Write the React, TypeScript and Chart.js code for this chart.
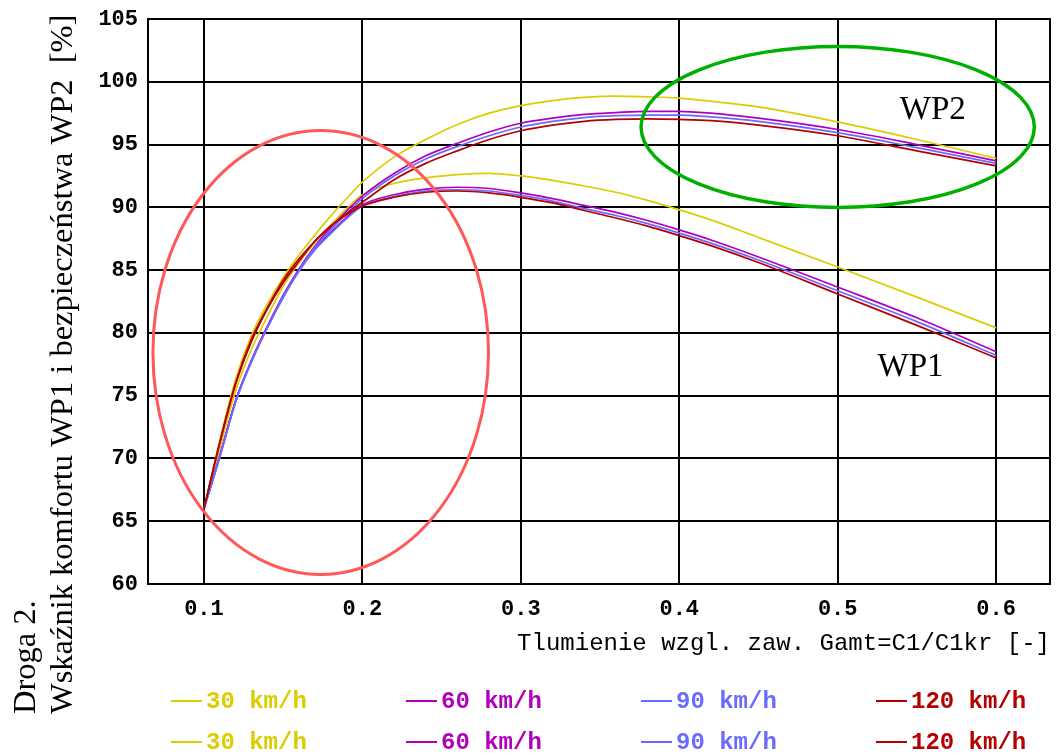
import { useEffect, useRef } from 'react';
import { Chart, registerables } from 'chart.js';

Chart.register(...registerables);

// Relative damping Gamt = C1/C1kr
const GAMMA = [0.1, 0.11, 0.12, 0.13, 0.14, 0.15, 0.16, 0.17, 0.18, 0.19, 0.2, 0.22, 0.24, 0.26, 0.28, 0.3, 0.32, 0.34, 0.36, 0.38, 0.4, 0.42, 0.45, 0.5, 0.55, 0.6];

const SPEEDS = ['30 km/h', '60 km/h', '90 km/h', '120 km/h'];
const COLORS = ['#dccc00', '#b000bc', '#6a6aff', '#b40000'];

// Comfort index WP1 [%]
const WP1_30 = [66.0, 70.8, 75.4, 78.7, 81.3, 83.7, 85.6, 87.2, 88.6, 89.9, 91.0, 91.9, 92.35, 92.6, 92.7, 92.5, 92.15, 91.7, 91.2, 90.55, 89.8, 89.0, 87.6, 85.25, 82.85, 80.4];
const WP1_60 = [66.0, 70.2, 74.6, 77.8, 80.5, 82.9, 85.0, 86.7, 88.0, 89.2, 90.2, 91.0, 91.45, 91.6, 91.5, 91.15, 90.7, 90.15, 89.6, 88.95, 88.2, 87.4, 86.05, 83.65, 81.2, 78.5];
const WP1_90 = [66.0, 70.1, 74.5, 77.7, 80.4, 82.8, 84.9, 86.6, 87.9, 89.1, 90.1, 90.85, 91.3, 91.4, 91.3, 90.95, 90.5, 89.9, 89.35, 88.7, 87.95, 87.15, 85.8, 83.35, 80.9, 78.2];
const WP1_120 = [66.0, 71.3, 76.0, 79.5, 82.0, 84.2, 85.9, 87.3, 88.5, 89.4, 90.1, 90.8, 91.2, 91.3, 91.15, 90.8, 90.35, 89.75, 89.15, 88.5, 87.75, 86.95, 85.6, 83.1, 80.6, 78.0];

// Safety index WP2 [%]
const WP2_30 = [66.0, 71.4, 76.3, 79.8, 82.3, 84.4, 86.2, 87.8, 89.3, 90.7, 92.0, 94.0, 95.4, 96.6, 97.5, 98.1, 98.5, 98.75, 98.85, 98.8, 98.7, 98.45, 98.0, 96.8, 95.4, 93.9];
const WP2_60 = [66.0, 70.2, 74.6, 77.8, 80.5, 83.0, 85.1, 86.9, 88.4, 89.7, 90.9, 92.7, 94.1, 95.1, 96.0, 96.7, 97.1, 97.4, 97.55, 97.65, 97.65, 97.5, 97.1, 96.2, 95.0, 93.7];
const WP2_90 = [66.0, 70.1, 74.5, 77.7, 80.4, 82.9, 85.0, 86.8, 88.2, 89.5, 90.7, 92.5, 93.85, 94.85, 95.7, 96.4, 96.85, 97.15, 97.3, 97.35, 97.35, 97.2, 96.85, 95.95, 94.75, 93.5];
const WP2_120 = [66.0, 71.2, 75.9, 79.3, 81.9, 84.0, 85.7, 87.3, 88.5, 89.5, 90.4, 92.2, 93.5, 94.5, 95.4, 96.1, 96.55, 96.85, 97.0, 97.05, 97.0, 96.9, 96.55, 95.7, 94.5, 93.3];

const X_TICKS = [0.1, 0.2, 0.3, 0.4, 0.5, 0.6];
const Y_TICKS = [60, 65, 70, 75, 80, 85, 90, 95, 100, 105];
const X_MIN = 0.0647;
const X_MAX = 0.634;

const Y_TITLE = ['Droga 2.', 'Wskaźnik komfortu WP1 i bezpieczeństwa WP2  [%]'];
const X_TITLE = 'Tlumienie wzgl. zaw. Gamt=C1/C1kr [-]';

// Highlight ellipses, in data units
const ELLIPSES = [
  { cx: 0.1737, cy: 78.44, rx: 0.1059, ry: 17.68, color: '#ff5858', width: 3 },
  { cx: 0.5, cy: 96.4, rx: 0.1241, ry: 6.41, color: '#00b000', width: 3.5 },
];
const NOTES = [
  { text: 'WP2', x: 0.56, y: 97.0 },
  { text: 'WP1', x: 0.546, y: 76.53 },
];

const WP1 = [WP1_30, WP1_60, WP1_90, WP1_120];
const WP2 = [WP2_30, WP2_60, WP2_90, WP2_120];

const MONO = '"Liberation Mono", "DejaVu Sans Mono", monospace';
const SERIF = '"Liberation Serif", "DejaVu Serif", serif';

const frame = {
  id: 'frame',
  beforeDatasetsDraw(chart: any) {
    const { ctx, chartArea: a } = chart;
    ctx.save();
    ctx.strokeStyle = '#000';
    ctx.lineWidth = 2;
    ctx.strokeRect(a.left, a.top, a.right - a.left, a.bottom - a.top);
    ctx.restore();
  },
  afterDatasetsDraw(chart: any) {
    const { ctx } = chart;
    const xs = chart.scales.x;
    const ys = chart.scales.y;
    ctx.save();
    for (const e of ELLIPSES) {
      const cx = xs.getPixelForValue(e.cx);
      const cy = ys.getPixelForValue(e.cy);
      const rx = Math.abs(xs.getPixelForValue(e.cx + e.rx) - cx);
      const ry = Math.abs(ys.getPixelForValue(e.cy + e.ry) - cy);
      ctx.beginPath();
      ctx.ellipse(cx, cy, rx, ry, 0, 0, Math.PI * 2);
      ctx.strokeStyle = e.color;
      ctx.lineWidth = e.width;
      ctx.stroke();
    }
    ctx.fillStyle = '#000';
    ctx.font = `33px ${SERIF}`;
    ctx.textAlign = 'center';
    ctx.textBaseline = 'alphabetic';
    for (const n of NOTES) {
      ctx.fillText(n.text, xs.getPixelForValue(n.x), ys.getPixelForValue(n.y));
    }
    ctx.restore();
  },
  afterDraw(chart: any) {
    const { ctx } = chart;
    ctx.save();
    // rotated two-line axis title
    ctx.fillStyle = '#000';
    ctx.font = `32.5px ${SERIF}`;
    ctx.textAlign = 'left';
    ctx.textBaseline = 'alphabetic';
    const baseX = [35, 72];
    Y_TITLE.forEach((t, i) => {
      ctx.save();
      ctx.translate(baseX[i], 714);
      ctx.rotate(-Math.PI / 2);
      ctx.fillText(t, 0, 0);
      ctx.restore();
    });
    // legend: WP1 row then WP2 row
    const cols = [171, 406, 641, 876];
    const rows = [701, 742];
    ctx.font = `bold 24px ${MONO}`;
    ctx.textBaseline = 'middle';
    chart.data.datasets.forEach((ds: any, i: number) => {
      const x0 = cols[i % 4];
      const y0 = rows[Math.floor(i / 4)];
      ctx.strokeStyle = ds.borderColor;
      ctx.lineWidth = 2;
      ctx.beginPath();
      ctx.moveTo(x0, y0);
      ctx.lineTo(x0 + 31, y0);
      ctx.stroke();
      ctx.fillStyle = ds.borderColor;
      ctx.fillText(ds.label, x0 + 35, y0 + 1);
    });
    ctx.restore();
  },
};

export default function App() {
  const ref = useRef<HTMLCanvasElement | null>(null);

  useEffect(() => {
    if (!ref.current) return;
    const series = [...WP1, ...WP2];
    const datasets = series.map((vals, i) => ({
      label: SPEEDS[i % 4],
      data: GAMMA.map((g, k) => ({ x: g, y: vals[k] })),
      borderColor: COLORS[i % 4],
      borderWidth: 1.7,
      pointRadius: 0,
      cubicInterpolationMode: 'monotone' as const,
      order: 3 - (i % 4),
    }));

    const chart = new Chart(ref.current, {
      type: 'line',
      data: { datasets },
      plugins: [frame],
      options: {
        animation: false,
        responsive: true,
        maintainAspectRatio: false,
        layout: { padding: { left: 0, top: 19, right: 6, bottom: 92 } },
        plugins: { legend: { display: false }, tooltip: { enabled: false } },
        scales: {
          x: {
            type: 'linear',
            min: X_MIN,
            max: X_MAX,
            afterBuildTicks: (s: any) => {
              s.ticks = X_TICKS.map((v) => ({ value: v }));
            },
            afterFit: (s: any) => {
              s.height = 80;
            },
            grid: { color: '#000', lineWidth: 2, drawTicks: false },
            border: { display: false },
            ticks: {
              padding: 12,
              color: '#000',
              font: { family: MONO, size: 22, weight: 'bold' },
              callback: (v: any) => Number(v).toFixed(1),
            },
            title: {
              display: true,
              text: X_TITLE,
              align: 'end',
              color: '#000',
              padding: { top: 0, bottom: 5.6 },
              font: { family: MONO, size: 24 },
            },
          },
          y: {
            type: 'linear',
            min: 60,
            max: 105,
            afterBuildTicks: (s: any) => {
              s.ticks = Y_TICKS.map((v) => ({ value: v }));
            },
            afterFit: (s: any) => {
              s.width = 148;
              s.paddingTop = 0;
              s.paddingBottom = 0;
            },
            grid: { color: '#000', lineWidth: 2, drawTicks: false },
            border: { display: false },
            ticks: {
              padding: 10,
              color: '#000',
              font: { family: MONO, size: 22, weight: 'bold' },
              callback: (v: any) => String(v),
            },
          },
        },
      },
    });
    return () => chart.destroy();
  }, []);

  return (
    <div style={{ position: 'fixed', left: 0, top: 0, width: 1056, height: 756, background: '#fff' }}>
      <canvas ref={ref} />
    </div>
  );
}
